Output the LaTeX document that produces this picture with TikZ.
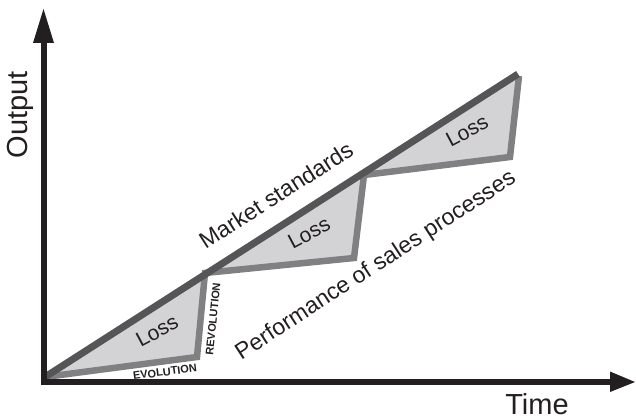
\documentclass[tikz,border=0pt]{standalone}
\usepackage{fontspec}
\setmainfont{Liberation Sans}
\begin{document}
\definecolor{inkblack}{HTML}{231F20}
\definecolor{marketgray}{HTML}{555557}
\definecolor{perfgray}{HTML}{808082}
\definecolor{lossfill}{HTML}{D3D3D5}
\begin{tikzpicture}[x=1pt,y=-1pt,
  axisline/.style={draw=inkblack,line width=6pt,line join=miter},
  arrowhead/.style={fill=inkblack},
  perfline/.style={draw=perfgray,line width=6.5pt,line join=miter},
  marketline/.style={draw=marketgray,line width=7pt},
  lbl/.style={text=inkblack,inner sep=0pt,font=\fontsize{23}{27}\selectfont},
  losslbl/.style={lbl,font=\fontsize{21}{25}\selectfont},
  smalllbl/.style={text=inkblack,inner sep=0pt,font=\fontsize{11}{13}\selectfont\bfseries},
  axislbl/.style={text=inkblack,inner sep=0pt,font=\fontsize{29}{34}\selectfont}]
\useasboundingbox (0,0) rectangle (636,419);

% corners of the performance curve and the end of the market line
\coordinate (o)  at (45,377);
\coordinate (e1) at (197,357);
\coordinate (r1) at (205,273);
\coordinate (e2) at (354,258);
\coordinate (r2) at (364,175);
\coordinate (e3) at (510,157);
\coordinate (r3) at (519,76);
\coordinate (m)  at (518,74);

% shaded losses between market standard and performance
\fill[lossfill] (o) -- (e1) -- (r1) -- (e2) -- (r2) -- (e3) -- (r3) -- cycle;
\draw[perfline] (o) -- (e1) -- (r1) -- (e2) -- (r2) -- (e3) -- (r3);
\draw[marketline] (o) -- (m);

% axes
\coordinate (ytop)   at (43.7,42);
\coordinate (origin) at (43.7,381.5);
\coordinate (xend)   at (610,381.5);
\draw[axisline] (ytop) -- (origin) -- (xend);
\fill[arrowhead] (43.5,9) -- (54,43) -- (33,43) -- cycle;
\fill[arrowhead] (635,382) -- (610,371.5) -- (610,392) -- cycle;

% labels
\node[axislbl,rotate=90] (output) at (20,115) {Output};
\node[axislbl] (time) at (537,404) {Time};
\node[lbl,rotate=32.7] (market) at (276,195) {Market standards};
\node[lbl,rotate=33] (perf) at (376,266) {Performance of sales processes};
\node[losslbl,rotate=28] (loss1) at (157,331) {Loss};
\node[losslbl,rotate=28] (loss2) at (309,233) {Loss};
\node[losslbl,rotate=28] (loss3) at (467,131) {Loss};
\node[smalllbl,rotate=7.5] (evo) at (165,372) {EVOLUTION};
\node[smalllbl,rotate=84] (revo) at (213,319) {REVOLUTION};
\end{tikzpicture}
\end{document}
